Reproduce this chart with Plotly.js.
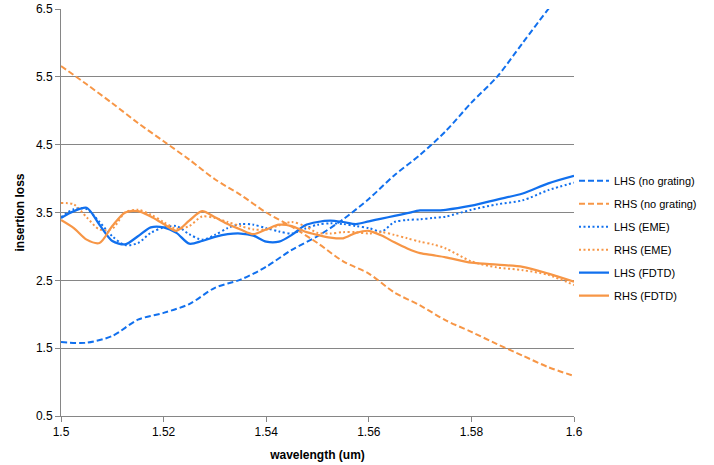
<!DOCTYPE html>
<html>
<head>
<meta charset="utf-8">
<script src="https://cdn.plot.ly/plotly-3.0.1.min.js"></script>
<style>html,body{margin:0;padding:0;background:#fff;}#chart{width:714px;height:465px;}</style>
</head>
<body>
<div id="chart"></div>
<script>
// wavelength grids (um)
var xCoarse = [1.500,1.505,1.510,1.515,1.520,1.525,1.530,1.535,1.540,1.545,1.550,1.555,1.560,1.565,1.570,1.575,1.580,1.585,1.590,1.595,1.600];
var lhsNoGrating = [1.59,1.58,1.68,1.92,2.02,2.15,2.39,2.51,2.70,2.95,3.15,3.40,3.70,4.05,4.35,4.70,5.12,5.50,6.00,6.50,6.95];
var rhsNoGrating = [5.66,5.39,5.11,4.82,4.55,4.28,3.99,3.76,3.50,3.29,3.05,2.78,2.60,2.32,2.13,1.91,1.74,1.56,1.39,1.22,1.09];

var xFine = [1.5000,1.5025,1.5050,1.5075,1.5100,1.5125,1.5150,1.5175,1.5200,1.5225,1.5250,1.5275,1.5300,1.5325,1.5350,1.5375,1.5400,1.5425,1.5450,1.5475,1.5500,1.5525,1.5550,1.5575,1.5600,1.5625,1.5650,1.5675,1.5700,1.5725,1.5750,1.5800,1.5850,1.5900,1.5950,1.6000];
var lhsEME  = [3.43,3.55,3.55,3.36,3.15,3.02,3.05,3.20,3.28,3.30,3.18,3.10,3.17,3.27,3.33,3.32,3.27,3.22,3.19,3.26,3.32,3.34,3.33,3.30,3.27,3.22,3.36,3.39,3.40,3.42,3.44,3.54,3.62,3.68,3.83,3.94];
var rhsEME  = [3.64,3.62,3.43,3.25,3.26,3.50,3.54,3.47,3.36,3.26,3.30,3.44,3.42,3.36,3.30,3.25,3.25,3.31,3.36,3.30,3.20,3.19,3.21,3.21,3.19,3.21,3.17,3.12,3.07,3.03,2.97,2.78,2.69,2.65,2.58,2.43];
var lhsFDTD = [3.42,3.52,3.57,3.32,3.08,3.03,3.15,3.28,3.28,3.20,3.04,3.08,3.14,3.18,3.19,3.16,3.07,3.07,3.17,3.31,3.36,3.38,3.36,3.33,3.37,3.41,3.45,3.49,3.53,3.53,3.54,3.60,3.69,3.78,3.93,4.04];
var rhsFDTD = [3.39,3.27,3.10,3.05,3.30,3.50,3.52,3.44,3.33,3.23,3.38,3.52,3.43,3.33,3.25,3.18,3.25,3.32,3.30,3.22,3.17,3.13,3.12,3.20,3.23,3.16,3.06,2.97,2.90,2.87,2.84,2.76,2.73,2.70,2.60,2.48];

var seriesNames = ['LHS (no grating)','RHS (no grating)','LHS (EME)','RHS (EME)','LHS (FDTD)','RHS (FDTD)'];
var blue = '#1170EE', orange = '#F79646';

function tr(x, y, name, color, dash, width, g) {
  return {x: x, y: y, name: name, type: 'scatter', mode: 'lines', legendgroup: g,
    line: {color: color, dash: dash, width: width, shape: 'spline', smoothing: 0.8}};
}
var traces = [
  tr(xCoarse, lhsNoGrating, seriesNames[0], blue, '6px,3px', 2, 'a'),
  tr(xCoarse, rhsNoGrating, seriesNames[1], orange, '6px,3px', 2, 'b'),
  tr(xFine, lhsEME, seriesNames[2], blue, '2px,2.5px', 2, 'c'),
  tr(xFine, rhsEME, seriesNames[3], orange, '2px,2.5px', 2, 'd'),
  tr(xFine, lhsFDTD, seriesNames[4], blue, 'solid', 2.25, 'e'),
  tr(xFine, rhsFDTD, seriesNames[5], orange, 'solid', 2.25, 'f')
];

var layout = {
  width: 714, height: 465,
  margin: {l: 61, r: 140, t: 9, b: 49},
  paper_bgcolor: '#fff', plot_bgcolor: '#fff',
  font: {family: 'Liberation Sans, Arial, sans-serif', size: 12, color: '#000'},
  showlegend: true,
  legend: {x: 1.0, xanchor: 'left', y: 0.437, yanchor: 'middle', tracegroupgap: 4,
    font: {size: 11}, bgcolor: 'rgba(0,0,0,0)', borderwidth: 0},
  xaxis: {range: [1.5, 1.6], tickvals: [1.5,1.52,1.54,1.56,1.58,1.6], ticktext: ['1.5','1.52','1.54','1.56','1.58','1.6'],
    showgrid: false, zeroline: false, showline: true, linecolor: '#868686', linewidth: 1,
    ticks: 'outside', ticklen: 5, tickcolor: '#868686',
    title: {text: '<b>wavelength (um)</b>', font: {size: 12}, standoff: 12}},
  yaxis: {range: [0.5, 6.5], tick0: 0.5, dtick: 1, tickformat: '.1f',
    showgrid: true, gridcolor: '#868686', gridwidth: 1, zeroline: false,
    showline: true, linecolor: '#868686', linewidth: 1,
    ticks: 'outside', ticklen: 5, tickcolor: '#868686',
    title: {text: '<b>insertion loss</b>', font: {size: 12}, standoff: 8}}
};

Plotly.newPlot('chart', traces, layout, {displayModeBar: false, staticPlot: true});
</script>
</body>
</html>
